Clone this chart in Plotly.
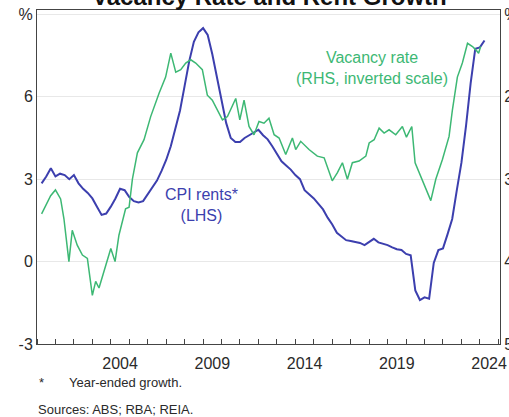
import plotly.graph_objects as go

# ---- Data ----
rent_years = [2000.25, 2000.5, 2000.75, 2001.0, 2001.25, 2001.5, 2001.75, 2002.0, 2002.25, 2002.5,
              2002.75, 2003.0, 2003.25, 2003.5, 2003.75, 2004.0, 2004.25, 2004.5, 2004.75, 2005.0,
              2005.25, 2005.5, 2005.75, 2006.0, 2006.25, 2006.5, 2006.75, 2007.0, 2007.25, 2007.5,
              2007.75, 2008.0, 2008.25, 2008.5, 2008.75, 2009.0, 2009.25, 2009.5, 2009.75, 2010.0,
              2010.25, 2010.5, 2010.75, 2011.0, 2011.25, 2011.5, 2011.75, 2012.0, 2012.25, 2012.5,
              2012.75, 2013.0, 2013.25, 2013.5, 2013.75, 2014.0, 2014.25, 2014.5, 2014.75, 2015.0,
              2015.25, 2015.5, 2015.75, 2016.0, 2016.25, 2016.5, 2016.75, 2017.0, 2017.25, 2017.5,
              2017.75, 2018.0, 2018.25, 2018.5, 2018.75, 2019.0, 2019.25, 2019.5, 2019.75, 2020.0,
              2020.25, 2020.5, 2020.75, 2021.0, 2021.25, 2021.5, 2021.75, 2022.0, 2022.25, 2022.5,
              2022.75, 2023.0, 2023.25, 2023.5, 2023.75, 2024.0, 2024.25]
rent_growth = [2.85, 3.1, 3.4, 3.1, 3.2, 3.15, 3.0, 3.15, 2.85, 2.65,
               2.5, 2.3, 2.0, 1.7, 1.75, 2.0, 2.3, 2.65, 2.6, 2.35,
               2.2, 2.15, 2.2, 2.45, 2.7, 2.95, 3.3, 3.7, 4.2, 4.8,
               5.5, 6.4, 7.3, 8.0, 8.35, 8.5, 8.25, 7.55, 6.7, 5.8,
               5.05, 4.5, 4.35, 4.35, 4.5, 4.6, 4.7, 4.8, 4.6, 4.45,
               4.2, 3.9, 3.65, 3.5, 3.35, 3.15, 3.0, 2.6, 2.45, 2.3,
               2.1, 1.9, 1.6, 1.35, 1.05, 0.9, 0.78, 0.75, 0.72, 0.68,
               0.6, 0.7, 0.83, 0.7, 0.65, 0.6, 0.52, 0.45, 0.42, 0.28,
               0.23, -1.05, -1.4, -1.3, -1.35, -0.05, 0.42, 0.48, 1.0, 1.55,
               2.6, 3.6, 4.95, 6.5, 7.75, 7.8, 8.05]

vac_years = [2000.25, 2000.47, 2000.74, 2001.0, 2001.28, 2001.46, 2001.55, 2001.73, 2001.91, 2002.18,
             2002.46, 2002.73, 2003.0, 2003.18, 2003.36, 2003.63, 2004.0, 2004.23, 2004.44, 2004.8,
             2004.99, 2005.17, 2005.44, 2005.8, 2006.16, 2006.61, 2006.97, 2007.25, 2007.52, 2007.79,
             2008.06, 2008.33, 2008.6, 2008.96, 2009.23, 2009.5, 2009.77, 2010.05, 2010.32, 2010.5,
             2010.77, 2010.99, 2011.22, 2011.49, 2011.76, 2012.03, 2012.3, 2012.57, 2012.85, 2013.12,
             2013.48, 2013.84, 2014.02, 2014.29, 2014.74, 2015.19, 2015.56, 2016.0, 2016.28, 2016.55,
             2016.82, 2017.09, 2017.45, 2017.82, 2018.0, 2018.27, 2018.54, 2018.81, 2019.08, 2019.44,
             2019.8, 2020.02, 2020.31, 2020.49, 2020.8, 2021.34, 2021.61, 2021.97, 2022.33, 2022.51,
             2022.78, 2023.05, 2023.33, 2023.6, 2023.78, 2023.93, 2024.04]
vac_rate = [3.42, 3.32, 3.2, 3.13, 3.24, 3.48, 3.64, 4.0, 3.62, 3.8,
            3.92, 3.96, 4.41, 4.24, 4.32, 4.12, 3.84, 4.0, 3.68, 3.36,
            3.34, 3.0, 2.68, 2.52, 2.24, 1.96, 1.76, 1.47, 1.7, 1.67,
            1.59, 1.55, 1.59, 1.67, 1.98, 2.04, 2.16, 2.28, 2.24, 2.16,
            2.02, 2.28, 2.04, 2.36, 2.46, 2.3, 2.32, 2.26, 2.46, 2.5,
            2.7, 2.5, 2.64, 2.54, 2.64, 2.72, 2.74, 3.02, 2.92, 2.8,
            3.0, 2.8, 2.78, 2.72, 2.56, 2.52, 2.38, 2.44, 2.4, 2.46,
            2.36, 2.49, 2.36, 2.8, 2.96, 3.26, 3.0, 2.76, 2.48, 2.16,
            1.76, 1.59, 1.35, 1.39, 1.43, 1.47, 1.39]

year_labels = ["2004", "2009", "2014", "2019", "2024"]
lhs_tick_labels = ["-3", "0", "3", "6", "%"]
rhs_tick_labels = ["5", "4", "3", "2", "%"]

BLUE = "#3c3fae"
GREEN = "#3db874"
AXIS = "#444444"
TEXT = "#2a2a2a"
FONT = "Liberation Sans, Arial, sans-serif"

fig = go.Figure()
fig.add_trace(go.Scatter(x=rent_years, y=rent_growth, mode="lines",
                         line=dict(color=BLUE, width=2), yaxis="y", name="CPI rents"))
fig.add_trace(go.Scatter(x=vac_years, y=vac_rate, mode="lines",
                         line=dict(color=GREEN, width=1.5), yaxis="y2", name="Vacancy rate"))

fig.update_layout(
    width=509, height=417,
    margin=dict(l=37, r=9, t=10, b=73),
    paper_bgcolor="white", plot_bgcolor="white",
    showlegend=False,
    font=dict(family=FONT, color=TEXT, size=16),
    xaxis=dict(
        range=[2000, 2025.09],
        tickmode="array",
        tickvals=[int(y) + 0.5 for y in year_labels],
        ticktext=year_labels,
        ticks="", showgrid=False, zeroline=False, automargin=False,
        showline=True, linecolor=AXIS, linewidth=1, mirror=True,
        ticklabelstandoff=5,
        minor=dict(tickmode="linear", tick0=2000, dtick=1, ticks="inside",
                   ticklen=5, tickcolor=AXIS, showgrid=False),
    ),
    yaxis=dict(
        range=[-3, 9.16],
        tickmode="array", tickvals=[-3, 0, 3, 6, 9], ticktext=lhs_tick_labels,
        ticks="", showgrid=True, gridcolor="#e8e8e8", gridwidth=1, automargin=False,
        zeroline=False, showline=True, linecolor=AXIS, linewidth=1,
    ),
    yaxis2=dict(
        range=[5, 0.946], overlaying="y", side="right",
        tickmode="array", tickvals=[5, 4, 3, 2, 1], ticktext=rhs_tick_labels,
        ticks="", showgrid=False, zeroline=False, automargin=False,
        showline=True, linecolor=AXIS, linewidth=1,
    ),
)

fig.add_annotation(text="CPI rents*<br>(LHS)", x=2008.89, y=2.06, xref="x", yref="y",
                   showarrow=False, font=dict(color=BLUE, size=16), align="center")
fig.add_annotation(text="Vacancy rate<br>(RHS, inverted scale)", x=2018.16, y=7.05, xref="x", yref="y",
                   showarrow=False, font=dict(color=GREEN, size=16), align="center")

fig.add_annotation(text="<b>Vacancy Rate and Rent Growth</b>", x=0.503, y=1.0, yshift=-2,
                   xref="paper", yref="paper", xanchor="center", yanchor="bottom",
                   showarrow=False, font=dict(size=24, color="#111"))

fig.add_annotation(text="*", x=0.0, y=-0.1138, xref="paper", yref="paper",
                   xanchor="left", yanchor="middle", showarrow=False, font=dict(size=13))
fig.add_annotation(text="Year-ended growth.", x=0.0648, y=-0.1138, xref="paper", yref="paper",
                   xanchor="left", yanchor="middle", showarrow=False, font=dict(size=13))
fig.add_annotation(text="Sources: ABS; RBA; REIA.", x=-0.002, y=-0.1976, xref="paper", yref="paper",
                   xanchor="left", yanchor="middle", showarrow=False, font=dict(size=13))

fig.write_html("out.html", config={"displayModeBar": False},
               post_script="document.body.style.margin='0';document.body.style.padding='0';"
                           "document.body.style.overflow='hidden';")
